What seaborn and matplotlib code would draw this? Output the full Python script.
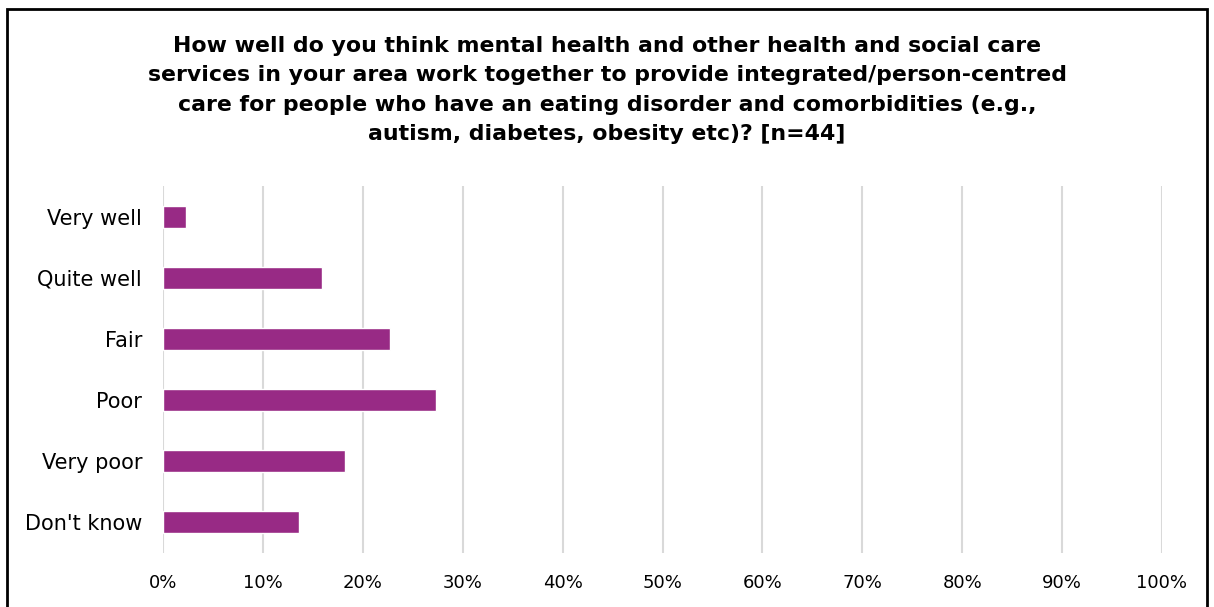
import matplotlib
matplotlib.use("Agg")
import matplotlib.pyplot as plt
from matplotlib.patches import Rectangle
from matplotlib.ticker import PercentFormatter
import seaborn as sns
import pandas as pd

# Survey responses (share of respondents, %)
categories = ["Very well", "Quite well", "Fair", "Poor", "Very poor", "Don't know"]
shares = [2.3, 15.9, 22.7, 27.3, 18.2, 13.6]
x_ticks = [0, 10, 20, 30, 40, 50, 60, 70, 80, 90, 100]

title = ("How well do you think mental health and other health and social care\n"
         "services in your area work together to provide integrated/person-centred\n"
         "care for people who have an eating disorder and comorbidities (e.g.,\n"
         "autism, diabetes, obesity etc)? [n=44]")

sns.set_theme(style="white")
plt.rcParams["font.family"] = ["DejaVu Sans"]

df = pd.DataFrame({"category": categories, "share": shares})

fig = plt.figure(figsize=(12.14, 6.07), dpi=100)
ax = fig.add_axes([163 / 1214, 1 - 553 / 607, (1162 - 163) / 1214, (553 - 186) / 607])

sns.barplot(data=df, x="share", y="category", order=categories, color="#982A85",
            saturation=1, width=0.36, ax=ax, zorder=3)

ax.set_xlim(0, 100)
ax.set_ylim(5.5, -0.5)
ax.set_xticks(x_ticks)
ax.xaxis.set_major_formatter(PercentFormatter(decimals=0))
ax.grid(axis="x", color="#D9D9D9", linewidth=1.5, zorder=0)
ax.set_xlabel("")
ax.set_ylabel("")
for s in ax.spines.values():
    s.set_visible(False)
ax.tick_params(axis="both", length=0, colors="black")
ax.tick_params(axis="x", pad=15, labelsize=13)
ax.tick_params(axis="y", pad=15, labelsize=15)

fig.text(0.5, 1 - 90 / 607, title, ha="center", va="center", fontsize=15.8,
         fontweight="bold", linespacing=1.58, color="black")

fig.patches.append(Rectangle((7 / 1214, -0.02), (1207 - 7) / 1214, 1.02 - 9 / 607,
                             transform=fig.transFigure, fill=False,
                             edgecolor="black", linewidth=2, zorder=10))

fig.savefig("out.png", dpi=100)
